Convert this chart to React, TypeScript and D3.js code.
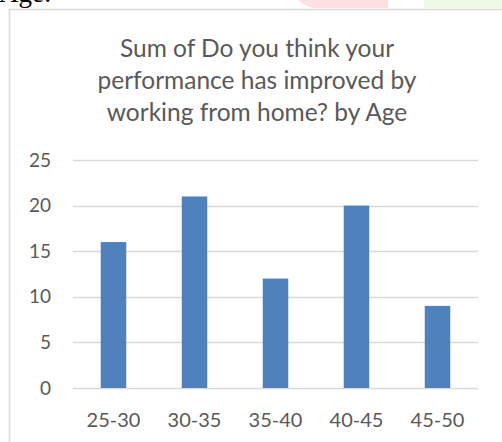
import React from 'react'
import * as d3 from 'd3'

const ageGroups = ['25-30', '30-35', '35-40', '40-45', '45-50']
const improvedSums = [16, 21, 12, 20, 9]
const yTicks = [0, 5, 10, 15, 20, 25]
const titleLines = [
  'Sum of Do you think your',
  'performance has improved by',
  'working from home? by Age'
]

const W = 502
const H = 442
const font = 'Lato, "Open Sans", sans-serif'
const textColor = '#595959'
const gridColor = '#d9d9d9'

export default function App() {
  const x = d3.scaleBand().domain(ageGroups).range([73, 478]).paddingInner(0.685).paddingOuter(0.3425)
  const y = d3.scaleLinear().domain([0, 25]).range([388, 160])

  return (
    <svg width={W} height={H} style={{ position: 'absolute', left: 0, top: 0, display: 'block' }}>
      {/* bits of the surrounding page that show above the chart */}
      <text x={-1} y={2} fontFamily='"Liberation Serif", serif' fontSize={27} fill='#000'>Age:</text>
      <path d='M298,0 L388,0 L388,8 L312,8 L306,5 L302,3 Z' fill='#ffe0e0' />
      <rect x={424} y={0} width={78} height={8} fill='#edf9e2' />

      <rect x={9.5} y={9.5} width={W} height={H} fill='#fff' stroke={gridColor} strokeWidth={1.5} />

      <g fontFamily={font} fill={textColor} textAnchor='middle'>
        {titleLines.map((line, i) => (
          <text key={i} x={257} y={57 + i * 32} fontSize={24.5}>{line}</text>
        ))}
      </g>

      <g>
        {yTicks.map(t => (
          <g key={t}>
            <line x1={73} x2={478} y1={Math.round(y(t)) + 0.5} y2={Math.round(y(t)) + 0.5} stroke={gridColor} strokeWidth={1.5} />
            <text x={51} y={y(t) + 6.5} textAnchor='end' fontFamily={font} fontSize={19} fill={textColor}>{t}</text>
          </g>
        ))}
      </g>

      <g>
        {ageGroups.map((g, i) => (
          <rect key={g} x={x(g)} y={y(improvedSums[i])} width={x.bandwidth()} height={y(0) - y(improvedSums[i])} fill='#4f81bd' />
        ))}
      </g>

      <g fontFamily={font} fontSize={20} fill={textColor} textAnchor='middle'>
        {ageGroups.map(g => (
          <text key={g} x={(x(g) || 0) + x.bandwidth() / 2} y={427}>{g}</text>
        ))}
      </g>
    </svg>
  )
}
